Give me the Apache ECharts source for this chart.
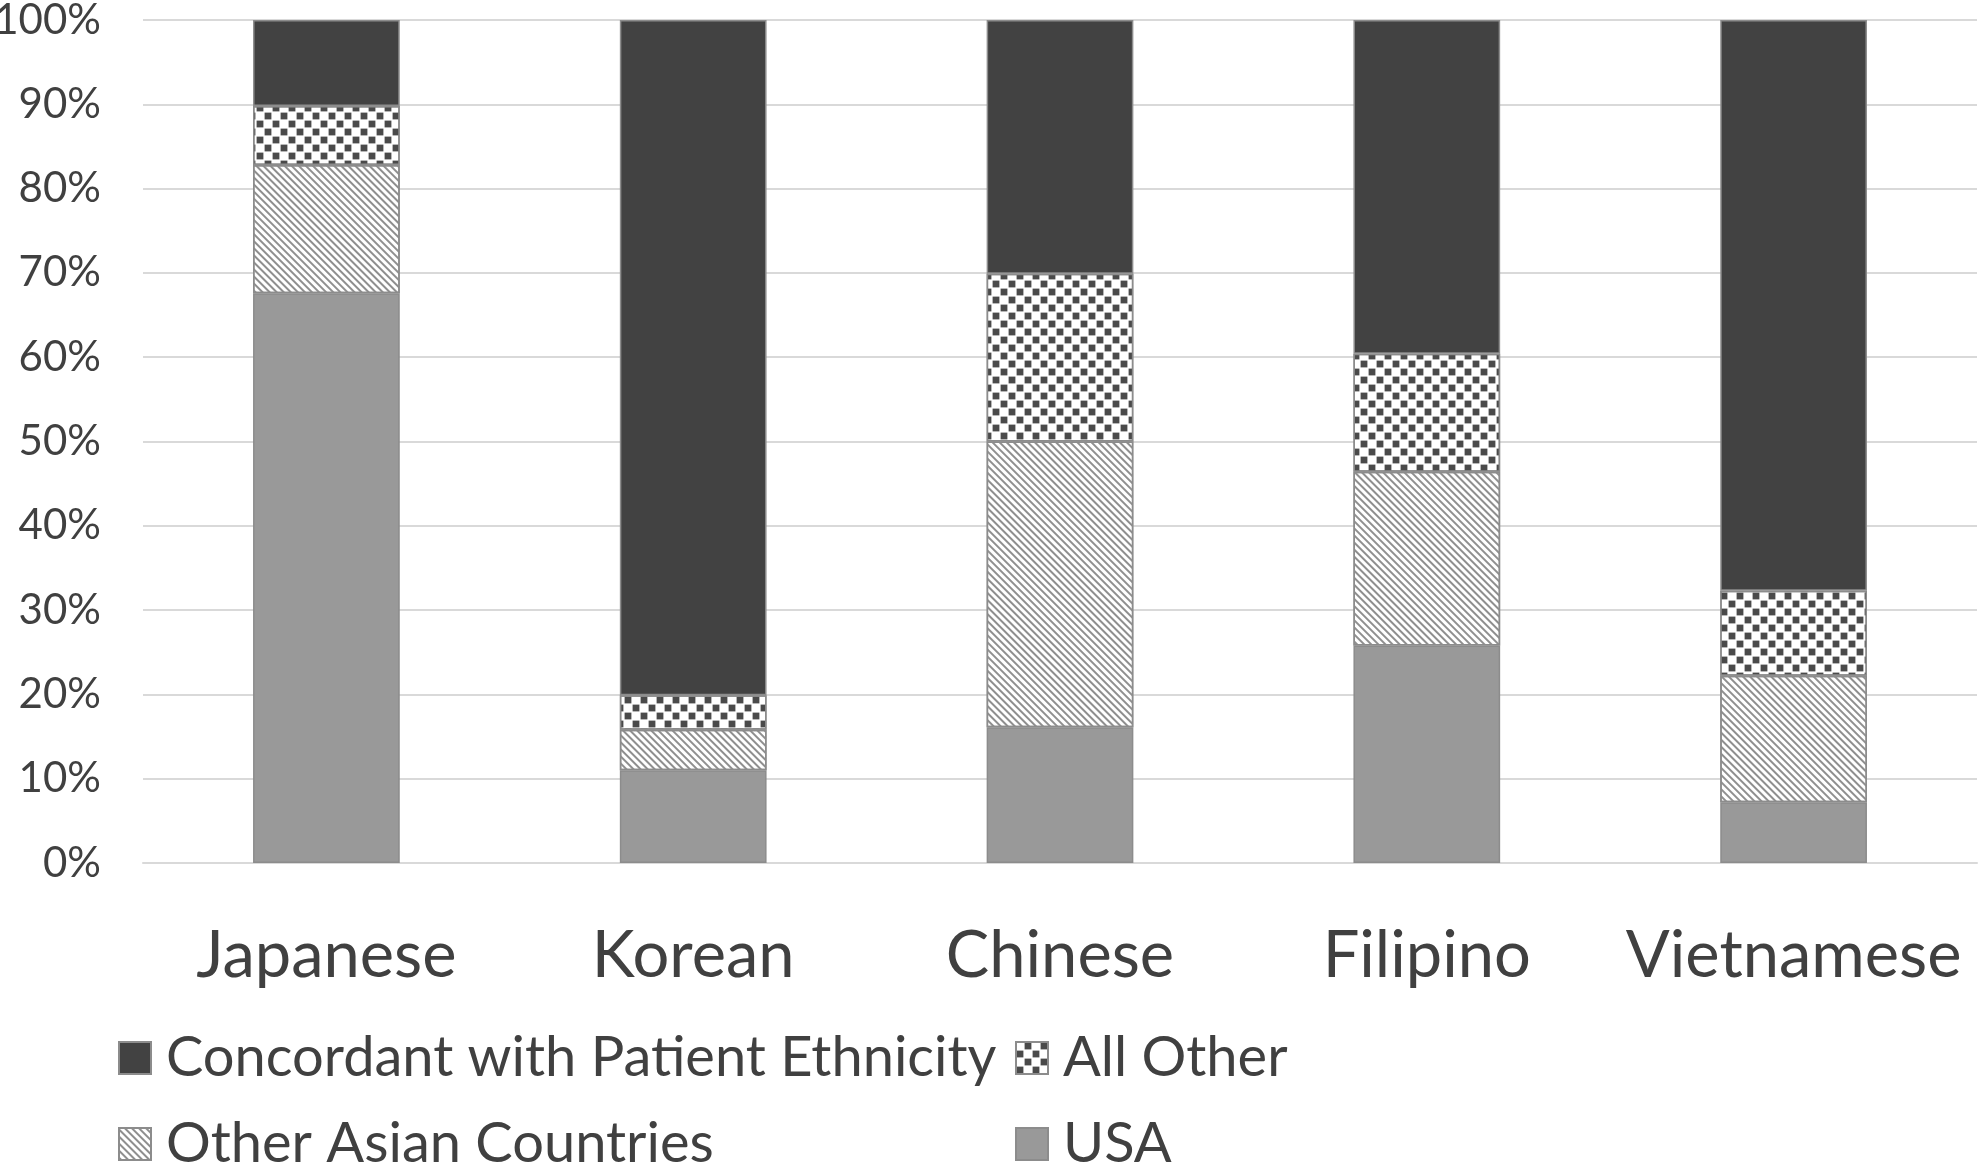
<!DOCTYPE html>
<html>
<head>
<meta charset="utf-8">
<style>html,body{margin:0;padding:0;background:#fff;}#c{width:1980px;height:1165px;}</style>
<script src="https://cdn.jsdelivr.net/npm/echarts@6/dist/echarts.min.js"></script>
</head>
<body>
<div id="c"></div>
<script>
const categories = ['Japanese', 'Korean', 'Chinese', 'Filipino', 'Vietnamese'];
const usa = [67.6, 11.0, 16.1, 25.8, 7.2];
const otherAsian = [15.2, 4.8, 33.9, 20.6, 15.0];
const allOther = [7.0, 4.1, 19.9, 14.0, 10.1];
const concordant = [10.2, 80.1, 30.1, 39.6, 67.7];
const yTicks = [0, 10, 20, 30, 40, 50, 60, 70, 80, 90, 100];
const legendRows = [
  ['Concordant with Patient Ethnicity', 'All Other'],
  ['Other Asian Countries', 'USA']
];

const FONT = 'Lato';
const TXT = '#404040';
const BORDER = '#8c8c8c';

const chart = echarts.init(document.getElementById('c'));
const hatch = {
  color: '#8f8f8f', backgroundColor: null, symbol: 'rect', symbolSize: 1,
  dashArrayX: [1, 0], dashArrayY: [1.1, 2.6], rotation: Math.PI / 4
};
const checker = {
  color: '#4a4a4a', backgroundColor: null, symbol: 'rect', symbolSize: 0.85,
  dashArrayX: [[8, 8], [0, 8, 8, 0]], dashArrayY: [8, 0], rotation: 0
};
function bar(name, data, color, decal) {
  const s = {
    name: name, type: 'bar', stack: 'total', data: data, barWidth: '40%',
    itemStyle: { color: color, borderColor: BORDER, borderWidth: 1.5 },
    emphasis: { disabled: true }, animation: false
  };
  if (decal) s.itemStyle.decal = decal;
  return s;
}
const legendLeft = [118, 1015];
const legendTop = [1030, 1116];
const legends = [];
legendRows.forEach(function (row, r) {
  row.forEach(function (name, c) {
    legends.push({
      orient: 'horizontal', icon: 'rect', itemWidth: 32, itemHeight: 32,
      padding: 0, selectedMode: false,
      left: legendLeft[c], top: legendTop[r], data: [name],
      textStyle: { fontFamily: FONT, fontSize: 56, color: TXT, padding: [0, 0, 0, 10] }
    });
  });
});
chart.setOption({
  backgroundColor: '#fff',
  animation: false,
  grid: { left: 143, right: 3, top: 20, bottom: 302, containLabel: false, outerBoundsMode: 'none' },
  legend: legends,
  xAxis: {
    type: 'category', data: categories,
    axisLine: { show: true, lineStyle: { color: '#d9d9d9', width: 2 } },
    axisTick: { show: false },
    axisLabel: { interval: 0, fontFamily: FONT, fontSize: 65, color: TXT, margin: 61 }
  },
  yAxis: {
    type: 'value', min: yTicks[0], max: yTicks[yTicks.length - 1], interval: 10,
    axisLine: { show: false }, axisTick: { show: false },
    splitLine: { lineStyle: { color: '#d9d9d9', width: 2 } },
    axisLabel: { fontFamily: FONT, fontSize: 42, color: TXT, margin: 42, formatter: '{value}%' }
  },
  series: [
    bar('USA', usa, '#999999'),
    bar('Other Asian Countries', otherAsian, '#ffffff', hatch),
    bar('All Other', allOther, '#ffffff', checker),
    bar('Concordant with Patient Ethnicity', concordant, '#424242')
  ]
});
</script>
</body>
</html>
